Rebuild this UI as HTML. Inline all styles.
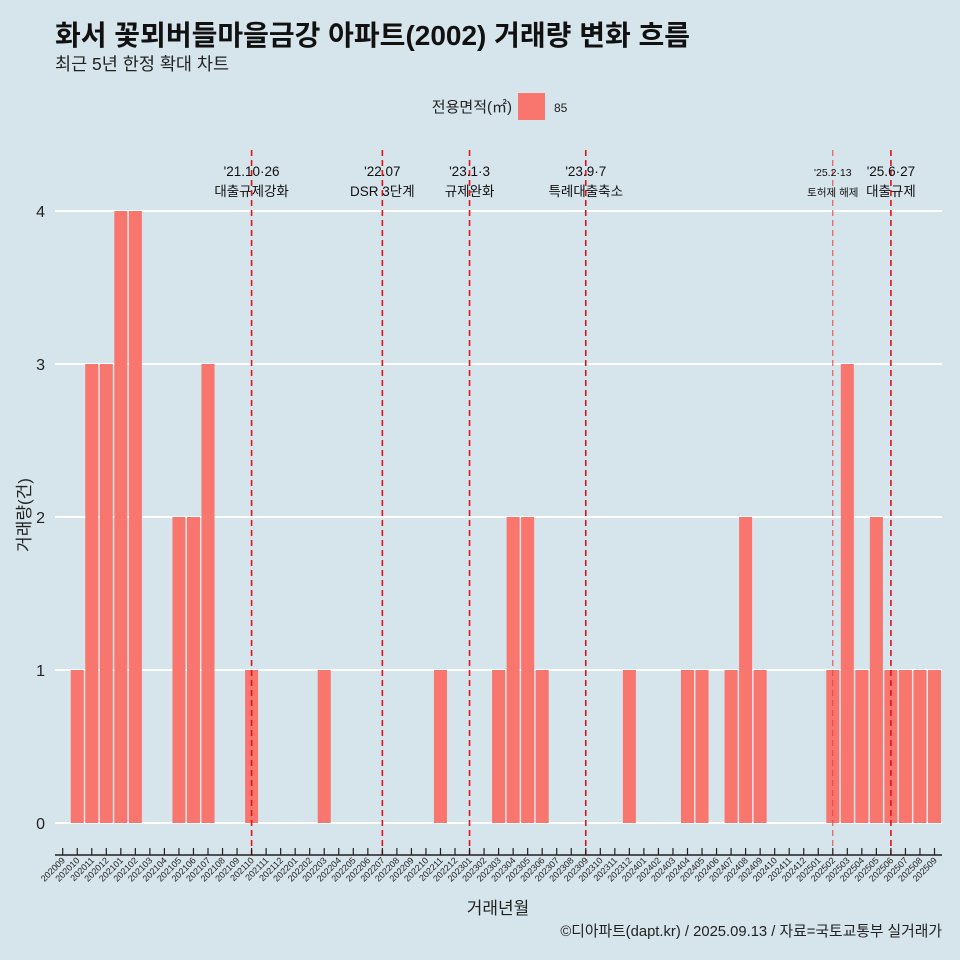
<!DOCTYPE html>
<html><head><meta charset="utf-8">
<style>
body{margin:0;background:#d6e4eb;}
svg{display:block;font-family:"Liberation Sans","Noto Sans CJK KR",sans-serif;}
</style></head><body>
<svg id="chart" width="960" height="960" xmlns="http://www.w3.org/2000/svg">
<rect width="960" height="960" fill="#d6e4eb"/>
<text x="55" y="45" font-size="28" font-weight="bold" fill="#111">화서 꽃뫼버들마을금강 아파트(2002) 거래량 변화 흐름</text>
<text x="55" y="70" font-size="17.5" fill="#222">최근 5년 한정 확대 차트</text>
<text x="512" y="112" font-size="15" text-anchor="end" fill="#222">전용면적(㎡)</text>
<rect x="518" y="93" width="27" height="27" fill="#f8766d"/>
<text x="554" y="112" font-size="12" fill="#222">85</text>
<g id="grid"></g><g id="bars"></g><g id="events"></g><g id="xaxis"></g><g id="yaxis"></g>
<text transform="translate(30,515) rotate(-90)" font-size="17" text-anchor="middle" fill="#222">거래량(건)</text>
<text x="498" y="914" font-size="17" text-anchor="middle" fill="#222">거래년월</text>
<text x="942" y="936" font-size="14.8" text-anchor="end" fill="#222">©디아파트(dapt.kr) / 2025.09.13 / 자료=국토교통부 실거래가</text>
</svg>
<script>
const months = [];
for (let y = 2020; y <= 2025; y++) for (let m = 1; m <= 12; m++) { const k = y * 100 + m; if (k >= 202009 && k <= 202509) months.push(String(k)); }
const counts = [0,1,3,3,4,4,0,0,2,2,3,0,0,1,0,0,0,0,1,0,0,0,0,0,0,0,1,0,0,0,1,2,2,1,0,0,0,0,0,1,0,0,0,1,1,0,1,2,1,0,0,0,0,1,3,1,2,1,1,1,1];
const yTicks = [0,1,2,3,4];
const eventMonths = ["202110","202207","202301","202309","202502","202506"];
const eventLine1 = ["'21.10·26","'22.07","'23.1·3","'23.9·7","'25.2·13","'25.6·27"];
const eventLine2 = ["대출규제강화","DSR 3단계","규제완화","특례대출축소","토허제 해제","대출규제"];
const eventSmall = [false,false,false,false,true,false];

const NS = "http://www.w3.org/2000/svg";
const x = i => 62.7 + i * 14.53;
const y = v => 823 - v * 153;
const bw = 13;
function mk(tag, attrs, parent) { const e = document.createElementNS(NS, tag); for (const k in attrs) e.setAttribute(k, attrs[k]); parent.appendChild(e); return e; }
const grid = document.getElementById('grid'), bars = document.getElementById('bars'), ev = document.getElementById('events'), xa = document.getElementById('xaxis'), ya = document.getElementById('yaxis');
yTicks.forEach(t => {
  const l = mk('line', {x1:55, x2:942, y1:y(t), y2:y(t), stroke:'#fff', 'stroke-width':2}, grid);
  
  
  const tx = mk('text', {x:45, y:y(t)+6, 'font-size':16, 'text-anchor':'end', fill:'#222'}, ya);
  tx.textContent = t;
  
  
});
counts.forEach((c, i) => {
  if (c <= 0) return;
  const r = mk('rect', {x:x(i)-bw/2, y:y(c), width:bw, height:y(0)-y(c), fill:'#f8766d'}, bars);
  
  
});
mk('line', {x1:55, x2:942, y1:855, y2:855, stroke:'#222', 'stroke-width':1.5}, xa);
months.forEach((m, i) => {
  const t = mk('line', {x1:x(i), x2:x(i), y1:848, y2:855, stroke:'#222', 'stroke-width':1.2}, xa);
  
  
  const tx = mk('text', {transform:`translate(${x(i)+3},861) rotate(-45)`, 'font-size':9, 'text-anchor':'end', fill:'#222'}, xa);
  tx.textContent = m;
  
  
});
eventMonths.forEach((m, k) => {
  const i = months.indexOf(m), xx = x(i), sm = eventSmall[k];
  const l = mk('line', {x1:xx, x2:xx, y1:150, y2:855, stroke: sm ? '#e8413c' : '#e8111a', 'stroke-width': sm ? 1 : 1.6, 'stroke-dasharray':'6,4'}, ev);
  
  
  const fs = sm ? 10.5 : 13.5;
  const a = mk('text', {x:xx, y:176, 'font-size':fs, 'text-anchor':'middle', fill:'#111'}, ev);
  a.textContent = eventLine1[k];
  
  
  const b = mk('text', {x:xx, y:196, 'font-size':fs, 'text-anchor':'middle', fill:'#111'}, ev);
  b.textContent = eventLine2[k];
  
  
});
</script>
</body></html>
